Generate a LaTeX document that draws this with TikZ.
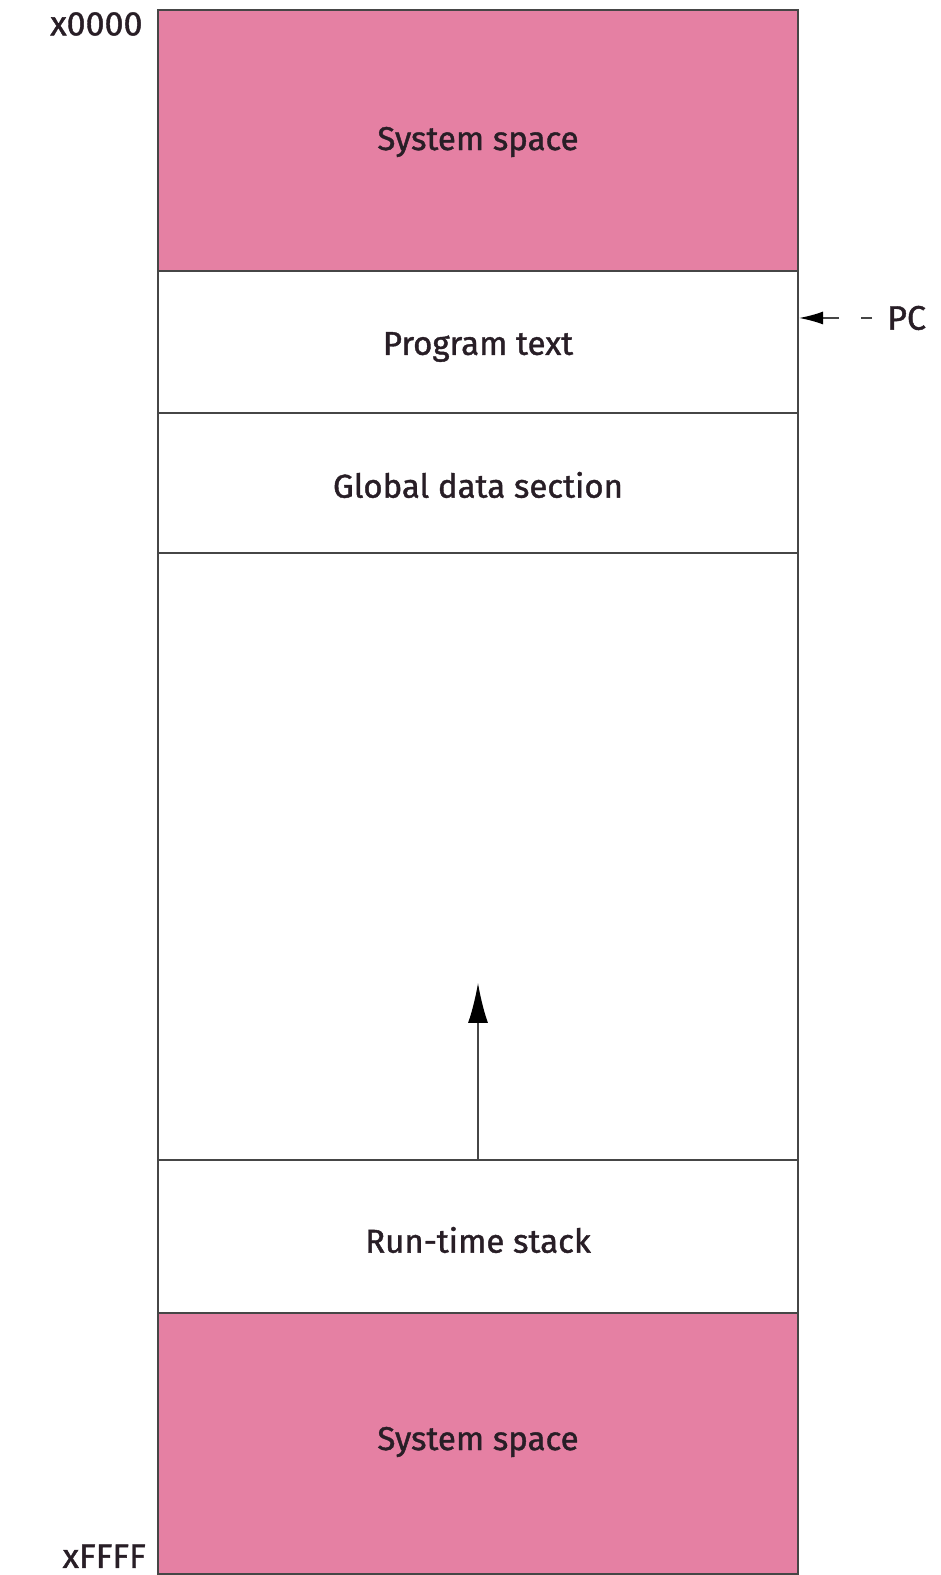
\documentclass[tikz,border=0pt]{standalone}
\usepackage{fontspec}
\setmainfont{Fira Sans}
\newfontfamily\labelfont{Fira Sans}[FakeBold=1.2]
\usetikzlibrary{arrows.meta}
\definecolor{syspink}{RGB}{229,128,163}
\definecolor{inkdark}{RGB}{40,30,38}
\definecolor{edgegray}{RGB}{70,70,70}
\begin{document}
\begin{tikzpicture}[x=1pt,y=1pt,
  region/.style={draw=edgegray, line width=1.6pt, fill=white},
  sysregion/.style={region, fill=syspink},
  lbl/.style={font=\labelfont\fontsize{33}{38}\selectfont, text=inkdark},
  addr/.style={font=\labelfont\fontsize{34}{38}\selectfont, text=inkdark}]
\useasboundingbox (0,0) rectangle (941,1575);
% memory regions, top (x0000) to bottom (xFFFF)
\filldraw[sysregion] (158,1565) rectangle (798,1304);
\draw[region] (158,1304) rectangle (798,1162);
\draw[region] (158,1162) rectangle (798,1022);
\draw[region] (158,1022) rectangle (798,415);
\draw[region] (158,415) rectangle (798,262);
\filldraw[sysregion] (158,262) rectangle (798,1);
\node[lbl] (sys1) at (478,1433) {System space};
\node[lbl] (prog) at (478,1228) {Program text};
\node[lbl] (glob) at (478,1090) {Global data section};
\node[lbl] (stack) at (478,335) {Run-time stack};
\node[lbl] (sys2) at (478,133) {System space};
% stack growth
\coordinate (sbase) at (478,415);
\coordinate (stip) at (478,592);
\draw[edgegray, line width=1.6pt, -{Latex[length=40pt,width=20pt,color=black]}] (sbase) -- (stip);
% address labels
\node[addr, anchor=east] (top) at (146,1551) {x0000};
\node[addr, anchor=base east, inner sep=0pt] (bot) at (146,7) {xFFFF};
% program counter
\node[addr, anchor=west, inner sep=0pt] (pc) at (887,1257) {PC};
\coordinate (pcin) at (799,1257);
\draw[edgegray, line width=1.6pt, dash pattern=on 0pt off 15pt on 11pt off 22pt on 60pt, -{Latex[length=24pt,width=13pt,color=black]}] (pc.west) -- (pcin);
\end{tikzpicture}
\end{document}
